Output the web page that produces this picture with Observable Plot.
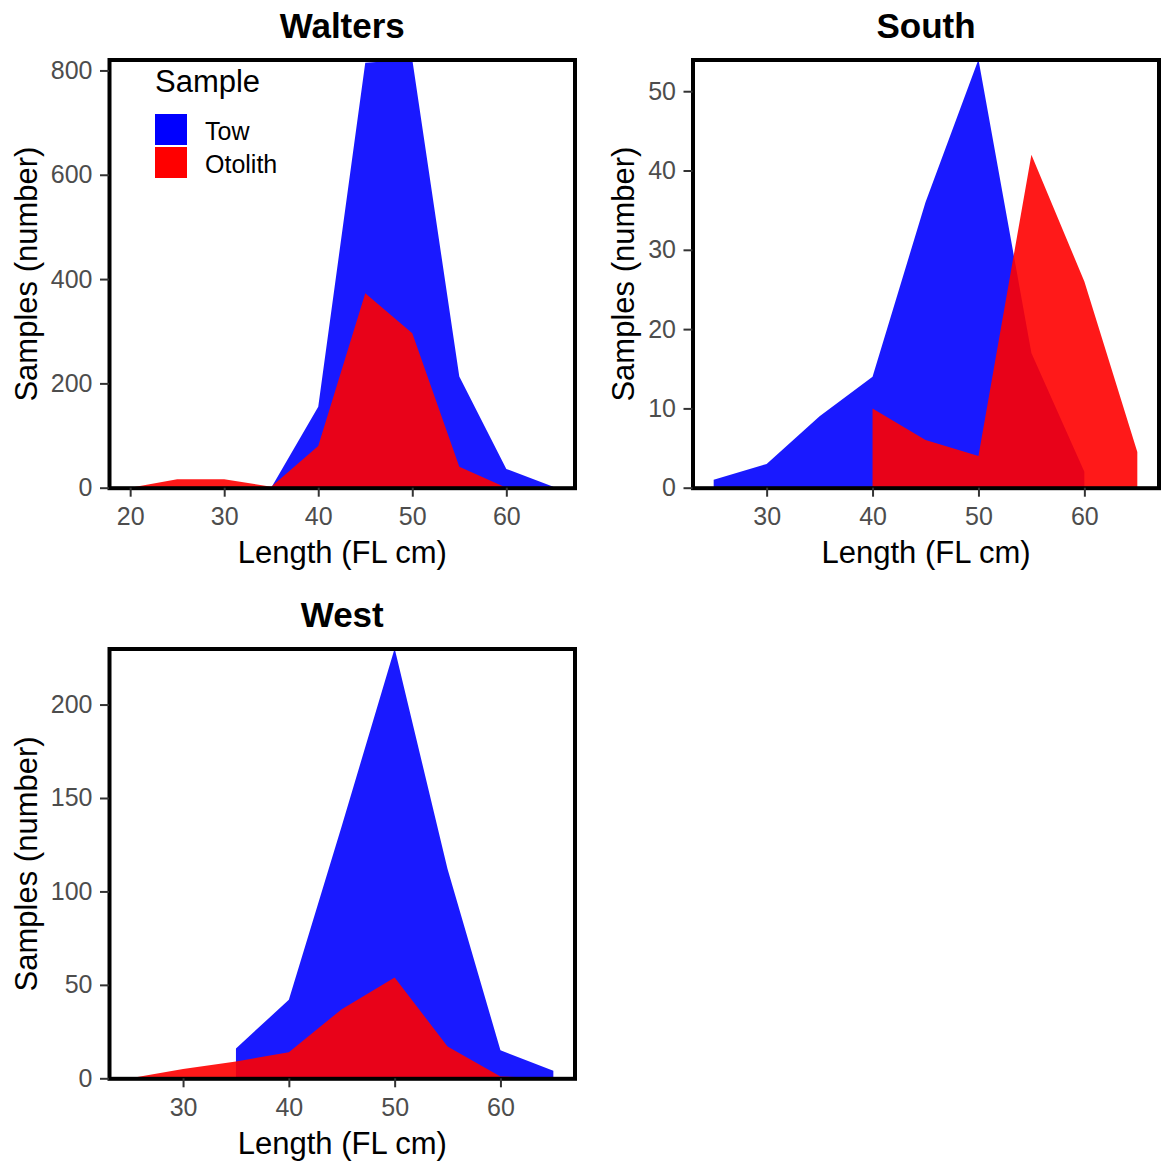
<!DOCTYPE html>
<html>
<head>
<meta charset="utf-8">
<script src="https://cdn.jsdelivr.net/npm/d3@7"></script>
<script src="https://cdn.jsdelivr.net/npm/@observablehq/plot@0.6"></script>
<style>
  html, body { margin: 0; padding: 0; background: #fff; overflow: hidden; }
  #chart { position: relative; width: 1161px; height: 1162px; overflow: hidden;
           font-family: "Liberation Sans", Arial, sans-serif; }
  #chart > svg { position: absolute; }
  .legend-title, .legend-label { position: absolute; white-space: nowrap; color: #000; }
  .legend-title { font-size: 31px; line-height: 31px; }
  .legend-label { font-size: 25px; line-height: 25px; }
  .legend-key { position: absolute; width: 32px; height: 31px; }
</style>
</head>
<body>
<div id="chart"></div>
<script>
// Length bins (fork length, cm) shared by all sites
const lengthBins = [20, 25, 30, 35, 40, 45, 50, 55, 60, 65];

// Sample types and their fills
const sampleTypes = ["Tow", "Otolith"];
const sampleColors = ["#0000FF", "#FF0000"];

// Number of samples per length bin (null = no sample in that bin)
const waltersTow     = [null, null, null, 0, 155, 815, 821, 213, 36, 2];
const waltersOtolith = [0, 16, 16, 2, 80, 373, 296, 40, 0, 0];
const southTow       = [null, 1, 3, 9, 14, 36, 54, 17, 2, null];
const southOtolith   = [null, null, null, null, 10, 6, 4, 42, 26, 4.5];
const westTow        = [null, null, null, 16, 42, 135, 230, 112, 15, 4];
const westOtolith    = [null, 0, 5, 9, 14, 37, 54, 17, 1, 0];

// Axis ticks
const waltersXTicks = [20, 30, 40, 50, 60];
const otherXTicks   = [30, 40, 50, 60];
const waltersYTicks = [0, 200, 400, 600, 800];
const southYTicks   = [0, 10, 20, 30, 40, 50];
const westYTicks    = [0, 50, 100, 150, 200];

// Labels
const siteNames = ["Walters", "South", "West"];
const xLabel = "Length (FL cm)";
const yLabel = "Samples (number)";
const legendTitle = "Sample";

const FONT = '"Liberation Sans", Arial, sans-serif';

function toRows(tow, otolith) {
  const rows = [];
  [tow, otolith].forEach((series, i) => {
    series.forEach((v, j) => {
      if (v != null) rows.push({length: lengthBins[j], count: v, sample: sampleTypes[i]});
    });
  });
  return rows;
}

// Panel layout: svg box on the page and the plotting frame inside it
const panels = [
  {title: siteNames[0], rows: toRows(waltersTow, waltersOtolith), xTicks: waltersXTicks, yTicks: waltersYTicks,
   box: {left: 0, top: 0, width: 590, height: 580},
   frame: {left: 109, top: 59.5, right: 574.5, bottom: 487.7}, yTitleGap: 73},
  {title: siteNames[1], rows: toRows(southTow, southOtolith), xTicks: otherXTicks, yTicks: southYTicks,
   box: {left: 583, top: 0, width: 578, height: 580},
   frame: {left: 692.5, top: 59.5, right: 1158.5, bottom: 487.7}, yTitleGap: 59},
  {title: siteNames[2], rows: toRows(westTow, westOtolith), xTicks: otherXTicks, yTicks: westYTicks,
   box: {left: 0, top: 590, width: 590, height: 572},
   frame: {left: 109, top: 648.5, right: 574.5, bottom: 1078.3}, yTitleGap: 73}
];

const chart = document.getElementById("chart");

for (const p of panels) {
  const [x0, x1] = d3.extent(p.rows, d => d.length);
  const pad = (x1 - x0) * 0.05;
  const yMax = d3.max(p.rows, d => d.count);

  const svg = Plot.plot({
    width: p.box.width,
    height: p.box.height,
    marginLeft: p.frame.left - p.box.left,
    marginTop: p.frame.top - p.box.top,
    marginRight: p.box.left + p.box.width - p.frame.right,
    marginBottom: p.box.top + p.box.height - p.frame.bottom,
    x: {domain: [x0 - pad, x1 + pad]},
    y: {domain: [0, yMax]},
    color: {domain: sampleTypes, range: sampleColors},
    style: {fontFamily: FONT, fontSize: "25px", background: "white", overflow: "visible"},
    marks: [
      // Tow first, Otolith drawn over it
      ...sampleTypes.map(s => Plot.areaY(p.rows.filter(d => d.sample === s), {
        x: "length", y1: 0, y2: "count", fill: "sample", fillOpacity: 0.9
      })),
      Plot.frame({stroke: "black", strokeWidth: 4}),
      Plot.axisX(p.xTicks, {tickSize: 9, tickPadding: 10.5, stroke: "#333", strokeWidth: 2, fill: "#4D4D4D", label: null}),
      Plot.axisY(p.yTicks, {tickSize: 9, tickPadding: 8, stroke: "#333", strokeWidth: 2, fill: "#4D4D4D", label: null}),
      Plot.text([p.title], {text: d => d, frameAnchor: "top", dy: -22, lineAnchor: "bottom",
        textAnchor: "middle", fontSize: 35, fontWeight: "bold", fill: "black"}),
      Plot.text([xLabel], {text: d => d, frameAnchor: "bottom", dy: 75, lineAnchor: "bottom",
        textAnchor: "middle", fontSize: 31, fill: "black"}),
      Plot.text([yLabel], {text: d => d, frameAnchor: "left", dx: -p.yTitleGap, rotate: -90,
        textAnchor: "middle", lineAnchor: "bottom", fontSize: 31, fill: "black"})
    ]
  });
  svg.style.left = p.box.left + "px";
  svg.style.top = p.box.top + "px";
  chart.appendChild(svg);
}

// Legend inside the Walters panel
const legend = d3.select(chart);
legend.append("div").attr("class", "legend-title")
  .style("left", "155px").style("top", "65.8px").text(legendTitle);
sampleTypes.forEach((s, i) => {
  const keyTop = 113.5 + i * 33.5;
  legend.append("div").attr("class", "legend-key")
    .style("left", "155px").style("top", keyTop + "px")
    .style("background", sampleColors[i]);
  legend.append("div").attr("class", "legend-label")
    .style("left", "205px").style("top", (keyTop + 15.5 + 11 - 21.2) + "px").text(s);
});
</script>
</body>
</html>
